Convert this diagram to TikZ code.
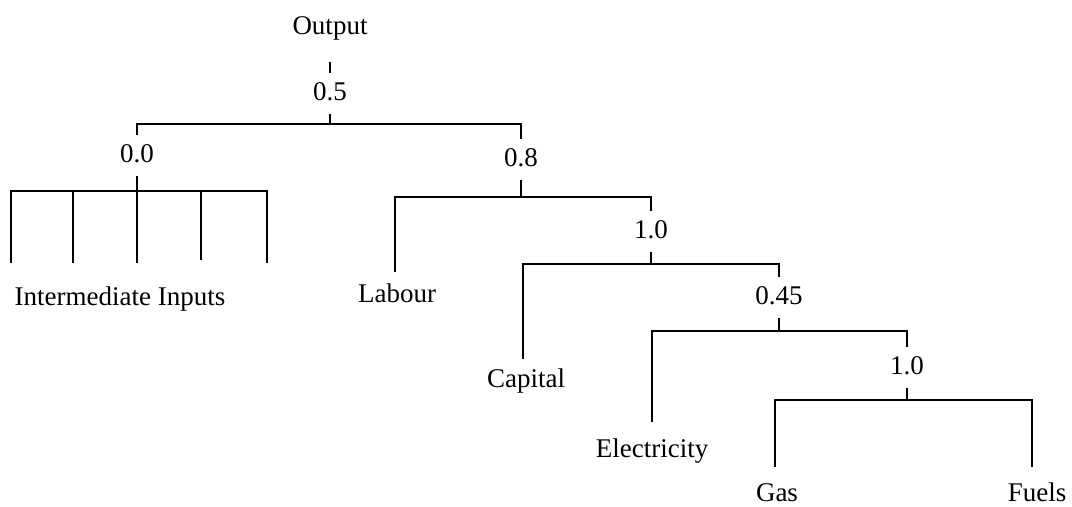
\documentclass[tikz,border=0pt]{standalone}
\usepackage{fontspec}
\setmainfont{Liberation Serif}
\begin{document}
\begin{tikzpicture}[x=0.5pt,y=-0.5pt,
  every node/.style={font=\fontsize{13.5}{16}\selectfont, anchor=base, inner xsep=0pt},
  split/.style={inner ysep=5pt, text depth=1.5pt},
  leaf/.style={inner ysep=0pt},
  tree/.style={line width=1.35pt, line cap=butt}]
\useasboundingbox (0,0) rectangle (1072,507);

% text nodes
\node[leaf] (out) at (330,34.5) {Output};
\node[split] (r) at (330,101) {0.5};
\node[split] (c00) at (137,163) {0.0};
\node[split] (c08) at (521,167) {0.8};
\node[split] (c10) at (651,239) {1.0};
\node[split] (c045) at (779,305) {0.45};
\node[split] (c10b) at (907,375) {1.0};
\node[leaf] (ii) at (120,305.6) {Intermediate Inputs};
\node[leaf] (lab) at (397,303) {Labour};
\node[leaf] (cap) at (526,388) {Capital};
\node[leaf] (ele) at (652,458) {Electricity};
\node[leaf] (gas) at (777,502) {Gas};
\node[leaf] (fue) at (1037,502) {Fuels};

% bar centres and leaf ends
\coordinate (top) at (330,62);
\coordinate (b1) at (330,124);
\coordinate (b2) at (137,191);
\coordinate (b3) at (521,197);
\coordinate (b4) at (651,264);
\coordinate (b5) at (779,331);
\coordinate (b6) at (907,400);
\coordinate (i1) at (11,263);
\coordinate (i2) at (73,263);
\coordinate (i3) at (137,263);
\coordinate (i4) at (201,260);
\coordinate (i5) at (267,263);
\coordinate (el) at (395,272);
\coordinate (ec) at (523,359);
\coordinate (ee) at (652,422);
\coordinate (eg) at (775,467);
\coordinate (ef) at (1032,467);

\begin{scope}[tree]
\draw (top) -- (r.north);
\draw (r.south) -- (b1);
\draw (c00.north) |- (b1) -| (c08.north);

\draw (c00.south) -- (b2);
\draw (i1) |- (b2) -| (i5);
\draw (i2) -- (i2 |- b2);
\draw (i3) -- (b2);
\draw (i4) -- (i4 |- b2);

\draw (c08.south) -- (b3);
\draw (el) |- (b3) -| (c10.north);

\draw (c10.south) -- (b4);
\draw (ec) |- (b4) -| (c045.north);

\draw (c045.south) -- (b5);
\draw (ee) |- (b5) -| (c10b.north);

\draw (c10b.south) -- (b6);
\draw (eg) |- (b6) -| (ef);
\end{scope}
\end{tikzpicture}
\end{document}
